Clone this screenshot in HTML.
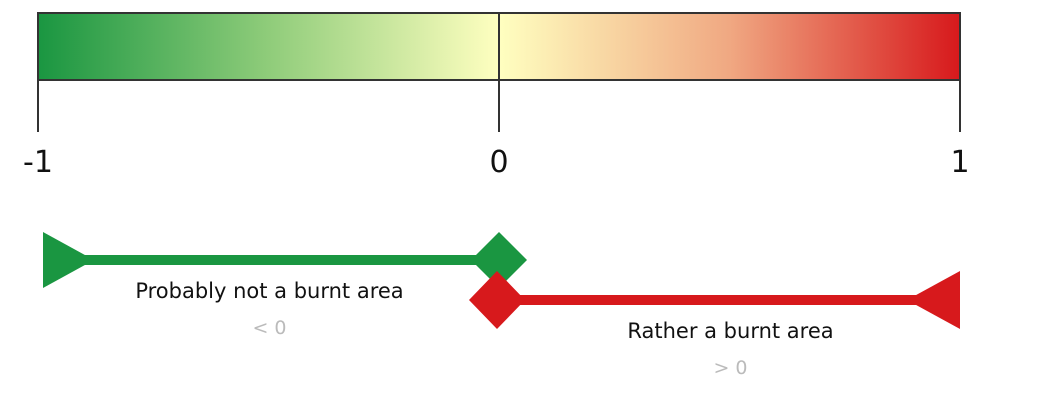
<!DOCTYPE html>
<html><head><meta charset="utf-8"><style>
html,body{margin:0;padding:0;background:#fff;}
svg{display:block;font-family:"DejaVu Sans","Liberation Sans",sans-serif;}
</style></head><body>
<svg id="chart" width="1038" height="414" viewBox="0 0 1038 414">
<defs><linearGradient id="grad" x1="0" x2="1" y1="0" y2="0">
<stop offset="0" stop-color="#1a9641"/><stop offset="0.25" stop-color="#8fcc7a"/><stop offset="0.5" stop-color="#ffffc0"/><stop offset="0.75" stop-color="#f0a882"/><stop offset="1" stop-color="#d7191c"/>
</linearGradient></defs>
<g id="scale"></g><g id="ranges"></g>
</svg>
<script>
const tickValues=[-1,0,1];
const tickLabels=["-1","0","1"];
const rangeNames=["Probably not a burnt area","Rather a burnt area"];
const rangeStarts=[-1,0];
const rangeEnds=[0,1];
const rangeConds=["< 0","> 0"];
const NS="http://www.w3.org/2000/svg";
const x0=38,x1=960;
function xs(v){return x0+(v+1)/2*(x1-x0);}
function mk(tag,attrs,parent){const e=document.createElementNS(NS,tag);for(const k in attrs)e.setAttribute(k,attrs[k]);parent.appendChild(e);return e;}
const sc=document.getElementById('scale');
let r=mk('rect',{x:xs(-1),y:13,width:xs(1)-xs(-1),height:67,fill:'url(#grad)',stroke:'#333','stroke-width':2},sc);


tickValues.forEach((v,i)=>{
 let l=mk('line',{x1:xs(v),x2:xs(v),y1:(v===0?13:80),y2:132,stroke:'#333','stroke-width':2},sc);
 
 
 let t=mk('text',{x:xs(v),y:172,'text-anchor':'middle','font-size':30,fill:'#111'},sc);
 t.textContent=tickLabels[i];
 
 
});
const rg=document.getElementById('ranges');
const cols=["#1a9641","#d7191c"];
const ys=[260,300];
rangeNames.forEach((n,i)=>{
 const g=mk('g',{},rg);
 
 
 const y=ys[i],a=xs(rangeStarts[i]),b=xs(rangeEnds[i]),c=cols[i];
 mk('line',{x1:a+5,x2:b-5,y1:y,y2:y,stroke:c,'stroke-width':10},g);
 if(i===0){
  mk('polygon',{points:`${a+5},${y-28} ${a+56},${y} ${a+5},${y+28}`,fill:c},g);
  mk('polygon',{points:`${b},${y-28} ${b+28},${y} ${b},${y+28} ${b-28},${y}`,fill:c},g);
 }else{
  mk('polygon',{points:`${a-2},${y-29} ${a+26},${y} ${a-2},${y+29} ${a-30},${y}`,fill:c},g);
  mk('polygon',{points:`${b},${y-29} ${b-53},${y} ${b},${y+29}`,fill:c},g);
 }
 const cx=(a+b)/2+(i===0?1:1);
 let t=mk('text',{x:cx,y:y+38,'text-anchor':'middle','font-size':21,fill:'#111'},g);
 t.textContent=n;
 
 
 let t2=mk('text',{x:cx,y:y+74,'text-anchor':'middle','font-size':19,fill:'#bbb'},g);
 t2.textContent=rangeConds[i];
 
 
});
</script>
</body></html>
